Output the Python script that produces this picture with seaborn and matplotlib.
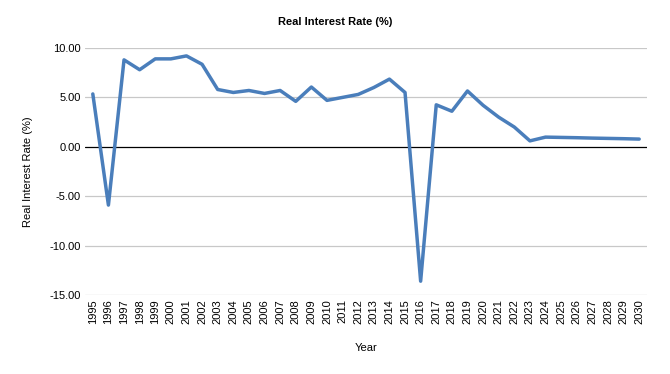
import matplotlib
matplotlib.use("Agg")
import matplotlib.pyplot as plt
import seaborn as sns
import pandas as pd

years = list(range(1995, 2031))
rates = [5.35, -5.9, 8.8, 7.8, 8.9, 8.9, 9.2, 8.35, 5.8, 5.5,
         5.7, 5.4, 5.7, 4.6, 6.05, 4.7, 5.0, 5.3, 6.0, 6.85,
         5.5, -13.6, 4.25, 3.6, 5.65, 4.2, 3.0, 2.0, 0.6, 0.98,
         0.95, 0.92, 0.88, 0.85, 0.82, 0.78]

df = pd.DataFrame({"pos": range(len(years)), "year": years, "rate": rates})

sns.set_theme(style="white", rc={"text.color": "black", "axes.labelcolor": "black",
                                 "xtick.color": "black", "ytick.color": "black"})
plt.rcParams["font.family"] = ["Liberation Sans", "DejaVu Sans"]

fig = plt.figure(figsize=(6.7, 3.74), dpi=100)
ax = fig.add_axes([85 / 670, 1 - 295 / 374, 562 / 670, 247 / 374])

for v in [-15, -10, -5, 5, 10]:
    ax.axhline(v, color="#c8c8c8", lw=0.9, zorder=0)
ax.axhline(0, color="black", lw=0.9, zorder=1)

sns.lineplot(data=df, x="pos", y="rate", ax=ax, color="#4a7ebb", lw=2.5,
             zorder=3)

ax.set_xlim(-0.5, len(years) - 0.5)
ax.set_ylim(-15, 10)
ax.set_xticks(df["pos"])
ax.set_xticklabels([str(y) for y in years], rotation=90, fontsize=8)
ax.set_yticks([-15, -10, -5, 0, 5, 10])
ax.set_yticklabels([f"{v:.2f}" for v in [-15, -10, -5, 0, 5, 10]], fontsize=8)
ax.tick_params(axis="both", length=0, pad=3)
for s in ax.spines.values():
    s.set_visible(False)

ax.set_xlabel("Year", fontsize=8, labelpad=14)
ax.set_ylabel("Real Interest Rate (%)", fontsize=8, labelpad=12)
fig.text(0.5, 1 - 22 / 374, "Real Interest Rate (%)", ha="center", va="center",
         fontsize=8, fontweight="bold")

fig.savefig("out.png", dpi=100)
